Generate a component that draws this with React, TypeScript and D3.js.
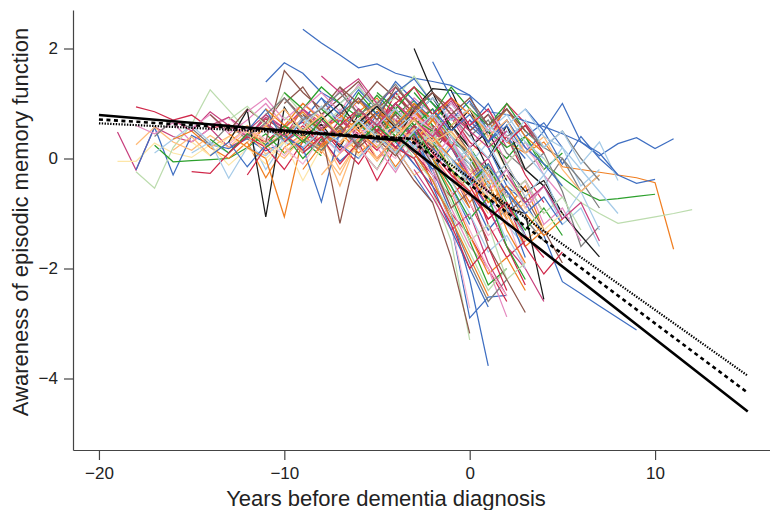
import React, { useEffect, useRef } from 'react';
import * as d3 from 'd3';

// tick labels
const xTicks = [-20, -10, 0, 10];
const yTicks = [-4, -2, 0, 2];

// individual trajectories: [first year, value at that year, next year, ...]
const trajectories: number[][] = [
  [-19, 0.48, -0.21, 0.57, 0.40, 0.30, 0.55, 0.20, 0.38, 0.62, 0.30],
  [-19, -0.05, -0.05, 0.28, 0.10, 0.02, 0.25, -0.12, 0.18, 0.05],
  [-18, -0.21, 0.57, -0.30, 0.42, 0.25, 0.18, 0.36, 0.14, 0.30, 0.52, 0.22, 0.40],
  [-18, -0.24, -0.54, 0.20, 0.62, 1.25, 0.88, 0.50, 0.20, 0.42, 0.10],
  [-18, 0.94, 0.85, 0.70, 0.79, 0.55, 0.62, 0.40, 0.72, 0.50, 0.66, 0.30, 0.52, 0.35],
  [-18, 0.25, 0.57, 0.30, 0.15, 0.42, 0.20, 0.50, 0.08, 0.30],
  [-18, 0.60, 0.45, 0.65, 0.30, 0.55, 0.75, 0.40, 0.60],
  [-17, 0.24, -0.06, -0.04, -0.02, 0.00, 0.20, 0.45, 0.10, 0.32, 0.05],
  [-17, 0.40, 0.70, 0.55, 0.25, 0.60, 0.35, 0.80, 0.45, 0.70, 0.40, 0.55, 0.20],
  [-17, 0.10, 0.35, 0.60, 0.30, 0.10, 0.45, -0.20, 0.30, 0.15],
  [-16, 0.35, 0.50, 0.20, 0.00, 0.30, -0.35, 0.20, 0.45, 0.10, 0.60, 0.30, 0.50],
  [-16, 0.70, 0.50, 0.85, 0.60, 0.40, 0.75, 0.55, 0.90, 0.65],
  [-16, 0.15, 0.40, 0.05, 0.30, 0.55, 0.25, 0.00, 0.40],
  [-15, -0.24, -0.27, 0.10, 0.45, 0.30, 0.60, 0.35, 0.15],
  [-15, 0.10, 0.30, -0.36, 0.20, 0.05, 0.35, 0.20, 0.55, 0.30],
  [-15, 0.55, 0.80, 0.45, 0.70, 1.00, 0.60, 0.85, 0.50, 0.75, 0.40, 0.65],
  [-15, 0.30, 0.05, 0.40, 0.20, -0.10, 0.35, 0.15, 0.50, 0.25, 0.10],
  [-14, 0.60, 0.75, 0.50, 0.80, 0.55, 0.90, 0.60, 0.70, 0.40, 0.85, 0.50],
  [-14, 0.20, 0.40, 0.60, 0.30, 0.50, 0.70, 0.30, -0.50, 0.40, 0.20, 0.55],
  [-14, 0.35, 0.10, 0.45, 0.25, 0.60, 0.40, 0.15, 0.50, 0.30],
  [-14, 0.80, 0.50, 0.90, 0.65, 1.10, 0.75, 0.50, 0.85, 0.60, 0.95, 0.70, 0.40],
  [-14, 0.05, 0.30, -0.15, 0.25, 0.45, 0.10, 0.35, -0.05, 0.25],
  [-13, 0.30, 0.88, -1.06, 0.93, 0.40, 0.62, 0.20, 0.80, 0.50, 1.00, 0.60, 0.35],
  [-13, 0.45, 0.20, 0.60, 0.35, 0.75, 0.50, 0.25, 0.65, 0.40, 0.10],
  [-13, 0.10, 0.40, 0.20, -0.20, 0.30, 0.55, 0.15, 0.45, 0.00, 0.35, -0.10],
  [-13, 0.70, 0.95, 0.60, 1.20, 0.80, 0.55, 0.90, 0.65, 1.05, 0.70],
  [-13, 0.25, 0.55, 0.35, 0.05, 0.50, 0.30, 0.70, 0.45, 0.20],
  [-12, 0.20, 0.00, -1.06, 0.40, 0.20, 0.60, 0.30, 0.50, 0.10, 0.45],
  [-12, 0.50, 0.90, 0.30, 0.70, 1.10, 0.60, 0.80, 0.40, 0.20, -0.30, -0.80],
  [-12, 0.60, 0.20, 0.50, 0.10, 0.40, -0.20, 0.30, 0.00, 0.20, -0.30, -0.10, -0.90],
  [-12, 0.85, 1.10, 0.70, 1.00, 0.75, 1.25, 0.90, 0.60, 0.95],
  [-12, -0.30, 0.20, 0.45, 0.15, 0.50, 0.25, -0.10, 0.40, 0.15, 0.55],
  [-12, 0.40, 0.65, 0.30, 0.55, 0.20, 0.60, 0.85, 0.45, 0.70, 0.35, 0.60],
  [-11, 1.39, 1.74, 1.55, 1.20, 1.00, 1.30, 0.90, 0.70, 0.20],
  [-11, 0.30, 1.60, 1.20, 0.90, 1.30, 0.80, 0.50, 0.60, 0.10, -0.40],
  [-11, 0.55, 0.30, 0.75, 0.45, 0.10, 0.60, 0.35, 0.80, 0.40, 0.15, 0.50],
  [-11, 0.20, 0.45, 0.00, 0.35, 0.60, 0.20, -0.20, 0.40, 0.10, 0.55, 0.25, -0.30],
  [-11, 0.90, 0.60, 1.00, 0.70, 0.45, 0.85, 1.10, 0.65, 0.90, 0.50],
  [-11, 0.00, 0.30, -0.40, 0.20, 0.45, 0.05, 0.35, -0.20, 0.25, 0.00],
  [-11, 0.65, 0.40, 0.90, 0.55, 0.80, 0.35, 0.70, 1.00, 0.60, 0.30, 0.75, 0.20, -0.40],
  [-10, 0.40, 0.20, -0.79, 0.50, 0.30, 0.80, 0.40, 0.60, 0.00, -0.50, -1.20],
  [-10, 1.00, 1.30, 0.80, 1.10, 1.40, 0.90, 1.20, 0.70, 0.90, 0.30, -0.20, -0.60],
  [-10, 0.30, 0.60, 0.25, 0.70, 0.45, 0.15, 0.55, 0.30, 0.60, 0.20, -0.30],
  [-10, 0.75, 0.50, 0.95, 0.60, 0.85, 0.40, 0.70, 0.95, 0.55, 0.80, 0.30],
  [-10, 0.10, 0.40, 0.15, -0.30, 0.35, 0.60, 0.20, 0.45, 0.00, -0.40],
  [-10, 0.55, 0.85, 0.50, 0.75, 1.05, 0.70, 0.40, 0.85, 0.50, 0.25, -0.10, -0.80],
  [-10, 0.20, -0.10, 0.40, 0.10, 0.55, 0.25, 0.00, 0.45, 0.15, -0.30, -0.70],
  [-10, 1.20, 0.90, 1.30, 1.00, 0.75, 1.15, 0.80, 1.05, 0.60],
  [-9, 2.35, 2.10, 1.88, 1.65, 1.72, 1.55, 1.46, 1.40, 1.33, 1.15, 0.40],
  [-9, 0.80, 0.50, -1.18, 0.30, 0.60, 0.90, 0.50, 0.20, -0.20, -0.90],
  [-9, 0.10, 0.40, -0.10, 0.30, -0.40, 0.20, 0.00, 0.50, -0.30, -0.80, -1.50],
  [-9, 0.60, 0.95, 0.70, 1.10, 0.80, 0.55, 0.95, 0.60, 0.30, -0.20],
  [-9, 0.35, 0.15, 0.50, 0.25, 0.70, 0.40, 0.10, 0.55, 0.20, -0.10, -0.60, -1.10],
  [-9, 0.90, 1.20, 0.85, 1.35, 1.00, 0.70, 1.10, 0.80, 0.50, 0.90, 0.40],
  [-9, -0.20, 0.25, 0.50, 0.10, 0.35, -0.15, 0.30, 0.05, -0.40, -0.90],
  [-9, 0.50, 0.75, 0.40, 0.65, 0.30, 0.85, 0.55, 0.25, 0.60, 0.20, -0.30, -0.90, -1.40],
  [-8, 0.90, 0.60, 1.20, 0.80, 0.40, 1.00, 0.60, 0.30, 0.10, -0.50, -1.00],
  [-8, 0.20, 0.50, 0.70, 0.30, 0.90, 0.50, 0.80, 0.20, -0.40, -0.20, -1.10],
  [-8, 1.50, 1.20, 1.45, 1.00, 1.30, 0.95, 0.70, 1.05, 0.50, 0.80, 0.20],
  [-8, 0.45, 0.10, 0.40, 0.65, 0.20, 0.50, -0.10, 0.30, -0.30, -0.70, -1.20, -1.60],
  [-8, 0.70, 1.00, 0.55, 0.85, 0.60, 0.30, 0.75, 0.40, 0.10, -0.30],
  [-8, -0.30, 0.10, 0.35, -0.05, 0.40, 0.15, -0.20, 0.25, -0.50, -1.00],
  [-8, 1.10, 0.80, 1.25, 0.90, 1.40, 1.05, 0.70, 1.00, 0.60, 0.30, 0.70, 0.20],
  [-8, 0.30, 0.60, 0.20, 0.50, 0.80, 0.40, 0.15, 0.50, 0.00, -0.60],
  [-7, 0.60, 0.90, 0.50, 1.20, 0.80, 0.50, 0.20, -0.30, -0.90, -1.60, -2.30],
  [-7, 1.00, 1.30, 0.90, 1.10, 1.50, 1.00, 0.60, 0.90, 0.30, -0.10],
  [-7, 0.25, 0.00, 0.40, 0.15, 0.55, 0.20, -0.20, -0.60, -1.30, -0.90, -1.80],
  [-7, 0.80, 0.50, 0.85, 0.60, 0.30, 0.70, 0.40, 0.00, -0.40, -0.10, -0.70],
  [-7, 0.10, 0.45, 0.20, -0.25, 0.35, 0.00, -0.40, 0.20, -0.70, -1.20],
  [-7, 1.30, 1.00, 1.40, 1.10, 0.85, 1.20, 0.90, 0.50, 0.80, 0.30, 0.60, 0.10],
  [-7, 0.55, 0.25, 0.60, 0.90, 0.50, 0.20, 0.60, 0.10, -0.20, -0.60, -1.10, -1.50],
  [-7, 0.40, 0.70, 0.35, 0.65, 0.30, 0.75, 0.45, 0.10, 0.40, -0.20],
  [-6, 0.70, 1.00, 0.60, 0.90, 0.50, 0.20, -0.30, -0.90, -1.60, -2.00, -2.60],
  [-6, 0.30, 0.60, 1.00, 0.60, 0.90, 0.40, 0.00, -0.50, -0.20, -0.80],
  [-6, 1.10, 0.80, 1.20, 1.45, 1.00, 0.70, 1.05, 0.50, 0.90, 0.40, 0.65, 0.20],
  [-6, 0.00, 0.35, -0.20, 0.25, -0.10, -0.60, -1.10, -0.70, -1.50],
  [-6, 0.50, 0.20, 0.60, 0.30, 0.70, 0.20, -0.40, -0.10, -0.90, -0.50, -1.30],
  [-6, 0.90, 0.60, 1.00, 0.70, 0.40, 0.80, 0.30, 0.00, 0.40, -0.30, -0.80],
  [-6, 0.20, -0.20, 0.30, 0.55, 0.10, -0.30, -0.80, -1.40, -1.10, -2.00],
  [-6, 0.65, 0.95, 0.55, 0.80, 1.10, 0.60, 0.20, 0.50, -0.20, -0.60, -0.40, -1.00],
  [-5, 0.80, 0.50, 0.90, 0.40, 0.00, -0.50, -0.20, -1.00, -1.60, -1.30],
  [-5, 0.30, 0.60, 0.20, -0.20, 0.20, -0.40, -0.90, -0.60, -1.40],
  [-5, 1.20, 0.90, 1.30, 1.00, 0.60, 0.90, 0.30, 0.00, 0.40, -0.20, 0.10],
  [-5, 0.00, 0.40, 0.10, -0.30, -0.70, -0.30, -1.20, -1.80, -1.50],
  [-5, 0.60, 0.90, 0.50, 0.75, 0.30, -0.10, 0.30, -0.40, -0.80, -0.50, -1.20, -0.90, -1.60],
  [-5, 0.45, 0.15, 0.55, 0.25, -0.20, 0.10, -0.60, -1.10, -0.80],
  [-5, 1.00, 1.35, 0.90, 1.20, 0.80, 0.40, 0.70, 0.10, -0.20, -0.50, 0.00, -0.60, -0.30],
  [-5, 0.35, 0.05, 0.50, 0.20, 0.60, 0.10, -0.50, -1.00, -0.70, -1.30, -1.90],
  [-4, 0.20, 0.00, -0.60, -1.50, -3.30],
  [-4, 0.10, -0.40, -0.80, -1.80, -3.18],
  [-4, 0.30, 0.90, 1.27, 1.24, 0.50, -0.20, -0.60],
  [-4, 0.70, 0.40, 0.80, 0.20, -0.30, 0.00, -0.70, -0.40, -1.00],
  [-4, 0.40, 0.75, 0.30, -0.20, -0.80, -0.40, -1.30, -1.90],
  [-4, 0.55, 0.20, 0.45, -0.10, 0.20, -0.50, -0.20, -0.90, -0.50, -1.10],
  [-4, 0.10, 0.45, 0.00, -0.50, -1.10, -0.70, -1.60, -2.20],
  [-3, 0.30, -0.20, -1.00, -2.20, -3.77],
  [-3, 0.50, -0.30, -1.20, -2.90, -2.52, -2.49],
  [-3, 0.40, -0.50, -1.00, -1.40, -2.00, -2.60],
  [-3, 2.00, 1.20, 0.50, 0.90, 0.20, -0.40],
  [-3, 0.80, 0.40, 0.90, 0.20, 0.60, -0.10, 0.30, -0.30, -0.70],
  [-3, 0.10, 0.40, -0.20, -0.60, -0.30, -1.00, -1.50, -1.20],
  [-2, 1.76, 1.10, 0.60, 1.00, 0.40, 0.00],
  [-2, -0.20, -0.90, -1.60, -2.00, -2.88],
  [-3, 0.20, -0.30, -1.20, -2.72],
  [-2, 0.60, 0.20, 0.70, 0.30, 1.00, 0.64, 0.20],
  [-2, 0.30, -0.20, -0.50, -0.10, -0.80, -1.30, -0.90, -1.40],
  [-1, 1.20, 1.15, 0.85, 0.80, 0.68, 0.58, 0.45, 0.30, 0.05, 0.27, 0.38, 0.18, 0.36],
  [0, -0.30, -0.60, -0.90, -1.00, -2.56],
  [1, 0.20, -0.50, -0.80, -1.40, -2.24, -2.46, -2.68, -2.90, -3.12],
  [2, 0.30, 0.10, 0.30, -0.15, -0.20, -0.25, -0.30, -0.35, -0.44, -1.65],
  [1, 0.50, 0.20, 0.40, -0.10, -0.35, -0.60, -0.76, -0.73, -0.69, -0.65],
  [2, -0.10, 0.30, 0.00, -0.50, -0.80, -1.00, -1.18, -1.12, -1.06, -1.00, -0.93],
  [2, 0.40, -0.20, 0.10, -0.60, -1.60, -1.23],
  [1, 0.00, 0.60, -0.20, -0.50, -1.00, -1.40, -1.79],
  [0, 0.70, 0.30, 0.60, 0.10, 0.50, -0.10, 0.40, 0.00, -0.30, -0.45, -0.38],
  [0, 0.20, -0.40, -0.10, -0.70, -0.30, -1.10, -0.60, -1.30],
  [1, -0.30, -0.70, -0.40, -1.20, -0.90, -1.50],
  [0, -0.50, -1.10, -0.80, -1.60, -2.10, -1.70],
  [-3, 0.60, 0.00, -0.70, -1.50, -2.30, -2.00],
  [-4, 0.50, 0.10, -0.40, -1.10, -1.90, -2.60, -2.20],
  [-2, 0.00, -0.60, -1.40, -2.10, -1.80, -2.40],
  [-5, 0.20, 0.50, 0.00, -0.40, -1.00, -1.70, -2.40, -2.00],
  [-3, -0.20, -0.70, -1.30, -1.00, -1.90, -2.50],
  [-1, -0.40, -1.00, -1.70, -1.40, -2.00],
  [0, 0.40, 0.00, 0.50, 0.10, -0.30, 0.20, -0.50, -0.20],
  [1, 0.80, 0.40, 0.60, 0.20, 0.00, -0.40, -0.90],
  [-5, 0.90, 0.60, 1.00, 0.70, 1.10, 0.80, 0.50, 0.90, 0.40, 0.10],
  [-4, 0.50, 0.80, 1.10, 0.70, 0.90, 0.50, 0.80, 0.30, 0.00],
  [-3, 1.20, 0.80, 1.30, 0.90, 0.60, 1.00, 0.50, 0.20],
  [-6, 0.40, 0.70, 0.30, 0.80, 0.50, 1.00, 0.60, 0.90, 0.40, 0.20, -0.20],
  [-2, 0.90, 0.50, 0.80, 0.30, 0.70, 0.20, -0.10, -0.50],
  [-1, 0.60, 0.90, 0.40, 0.70, 0.10, 0.40, -0.20, -0.60, -0.30],
  [-4, 1.00, 1.30, 0.80, 1.10, 0.60, 0.90, 0.30, 0.60, 0.10],
  [0, 1.00, 0.60, 0.90, 0.50, 0.20, 0.50, 0.00, -0.40],
  [-7, 0.80, 1.10, 0.70, 1.30, 0.90, 1.20, 0.80, 1.10, 0.60, 0.90, 0.50],
  [1, 0.60, 0.30, 0.70, 0.20, 0.50, -0.10, 0.30, -0.40],
  [-3, 0.20, 0.50, -0.10, -0.40, -0.10, -0.70, -0.40, -1.00, -0.70, -1.30],
  [-2, 0.40, 0.00, -0.30, -0.80, -0.50, -1.00, -1.40, -1.10],
  [-4, 0.60, 0.30, 0.00, 0.40, -0.30, -0.60, -0.20, -0.90, -0.50],
  [-1, 0.00, -0.40, -0.10, -0.60, -1.00, -0.70, -1.20],
  [0, -0.20, -0.70, -0.30, -0.90, -1.30, -1.00],
  [-5, 0.50, 0.20, 0.60, 0.10, -0.30, -0.60, -1.10, -0.80, -1.40, -1.80],
  [2, -0.30, -0.80, -0.50, -1.10, -0.80, -1.50],
  [-3, 0.70, 0.30, 0.00, -0.50, -0.20, -0.90, -1.40],
  [-3, 0.10, -0.40, -1.10, -1.80, -2.50],
  [-4, 0.30, -0.10, -0.50, -1.30, -2.00, -2.70],
  [-2, -0.10, -0.80, -1.50, -1.20, -2.20, -1.90],
  [-5, 0.60, 0.20, 0.00, -0.60, -1.20, -2.00, -1.60, -2.40],
  [-1, -0.60, -1.30, -2.00, -2.50],
  [-3, 0.40, -0.10, -0.90, -0.60, -1.60, -2.20, -2.80],
  [-12, 0.30, 0.60, 0.90, 0.50, 0.80, 0.40, 0.70, 1.00, 0.60, 0.30],
  [-10, 0.60, 0.30, 0.70, 0.40, 0.90, 0.60, 0.30, 0.70, 0.50],
  [-9, 0.20, 0.50, 0.30, 0.70, 0.40, 0.10, 0.50, 0.80, 0.40, 0.00],
  [-8, 0.70, 0.40, 0.90, 0.60, 1.00, 0.70, 0.40, 0.80, 0.50, 0.20, 0.50],
  [-11, 0.80, 1.10, 0.70, 0.90, 1.20, 0.80, 1.00, 0.60, 0.90],
  [-7, 0.30, 0.60, 0.00, 0.40, 0.70, 0.30, 0.50, 0.10, -0.30],
  [3, 0.90, 0.50, 1.00, 0.30, 0.10, -0.30],
  [2, 0.60, 0.90, 0.40, 0.20, -0.20, -0.60, -1.00],
];

// fitted piecewise-linear trends: knot years and values
const solidYears = [-20, -3.7, 15];
const solidValues = [0.79, 0.33, -4.6];
const dashedYears = [-20, -3.3, 15];
const dashedValues = [0.71, 0.36, -4.26];
const dottedYears = [-20, -3, 15];
const dottedValues = [0.64, 0.36, -3.95];

const palette: Record<string, string> = {
  b: '#3f6fc2', o: '#f07f22', g: '#2ca02c', r: '#d0284a', n: '#8c564b',
  m: '#c8407e', p: '#e58ac0', k: '#1a1a1a', y: '#7f7f7f',
  B: '#a6cbe8', O: '#ffbb78', G: '#bcdcae', P: '#f5b4cf', Y: '#fde6a8',
};
// one colour key per trajectory, ten per chunk
const colorCodes = [
  'mYbGrOpgyB', 'omOrBpYmOg', 'nbkorGPobO', 'prybnBgoYm', 'bnrGOoPgbn',
  'rBypoggomB', 'kObnrGbopn', 'yYmgbBorPk', 'obgrBOynGn', 'kmoBgbbrkp',
  'ObpPrgbkbo', 'gGykbBprgy', 'oGmBByoBgP', 'bOrynBGopb', 'YrmBobGrPn',
  'OgBmyObB',
].join('');

const font = "'Liberation Sans', Arial, Helvetica, sans-serif";

const Chart = () => {
  const svgRef = useRef<SVGSVGElement>(null);

  useEffect(() => {
    const svg = d3.select(svgRef.current);
    svg.selectAll('*').remove();

    const x = d3.scaleLinear().domain([-21.4, 16.2]).range([73, 770]);
    const y = d3.scaleLinear().domain([-5.3, 2.7]).range([450, 10]);

    const line = d3.line<[number, number]>()
      .x((d) => x(d[0]))
      .y((d) => y(d[1]));

    // individual trajectories
    const g = svg.append('g');
    trajectories.forEach((t, i) => {
      const start = t[0];
      const pts: [number, number][] = t.slice(1).map((v, j) => [start + j, v]);
      const code = colorCodes[i] || 'b';
      g.append('path')
        .attr('d', line(pts))
        .attr('fill', 'none')
        .attr('stroke', palette[code] || '#3f6fc2')
        .attr('stroke-width', 1.25)
        .attr('stroke-linejoin', 'miter');
    });

    // trend lines
    const trend = (years: number[], vals: number[]) =>
      line(years.map((yr, i) => [yr, vals[i]] as [number, number]));

    svg.append('path')
      .attr('d', trend(dottedYears, dottedValues))
      .attr('fill', 'none')
      .attr('stroke', '#000')
      .attr('stroke-width', 2.2)
      .attr('stroke-dasharray', '1.4,1.4');

    svg.append('path')
      .attr('d', trend(dashedYears, dashedValues))
      .attr('fill', 'none')
      .attr('stroke', '#000')
      .attr('stroke-width', 2.6)
      .attr('stroke-dasharray', '4,3.5');

    svg.append('path')
      .attr('d', trend(solidYears, solidValues))
      .attr('fill', 'none')
      .attr('stroke', '#000')
      .attr('stroke-width', 2.6);

    // axes
    const xAxis = svg.append('g')
      .attr('transform', 'translate(0,450)')
      .call(d3.axisBottom(x).tickValues(xTicks).tickSize(10).tickSizeOuter(0).tickPadding(7));
    const yAxis = svg.append('g')
      .attr('transform', 'translate(73,0)')
      .call(d3.axisLeft(y).tickValues(yTicks).tickSize(9).tickSizeOuter(0).tickPadding(6));

    [xAxis, yAxis].forEach((a) => {
      a.select('.domain').attr('stroke', '#444').attr('stroke-width', 1.2);
      a.selectAll('.tick line').attr('stroke', '#444').attr('stroke-width', 1.2);
      a.selectAll('.tick text')
        .attr('fill', '#222')
        .style('font-family', font)
        .style('font-size', '17px');
    });

    svg.append('text')
      .attr('x', 386)
      .attr('y', 506)
      .attr('text-anchor', 'middle')
      .attr('fill', '#222')
      .style('font-family', font)
      .style('font-size', '22px')
      .text('Years before dementia diagnosis');

    svg.append('text')
      .attr('transform', 'translate(28,222) rotate(-90)')
      .attr('text-anchor', 'middle')
      .attr('fill', '#222')
      .style('font-family', font)
      .style('font-size', '22px')
      .text('Awareness of episodic memory function');
  }, []);

  return (
    <svg
      ref={svgRef}
      width={770}
      height={510}
      style={{ position: 'absolute', left: 0, top: 0, background: '#fff' }}
    />
  );
};

export default function App() {
  return <Chart />;
}
